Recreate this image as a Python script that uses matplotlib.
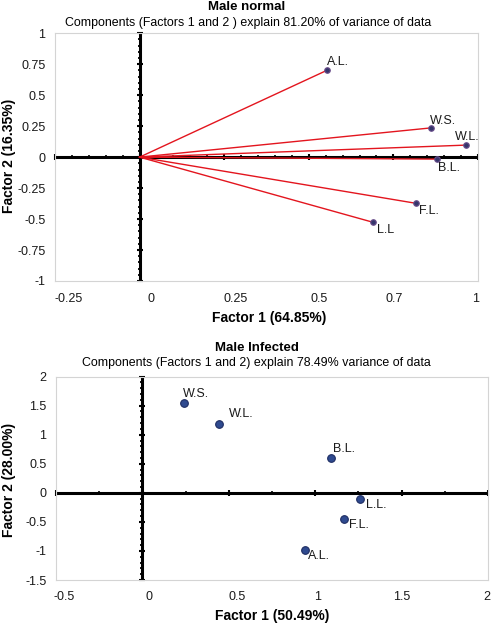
import numpy as np
import matplotlib
matplotlib.use("Agg")
import matplotlib.pyplot as plt

plt.rcParams["font.family"] = ["Liberation Sans", "DejaVu Sans"]

# ---- data: male normal (loadings) ----
normal_labels = ["A.L.", "W.S.", "W.L.", "B.L.", "F.L.", "L.L"]
normal_f1 = [0.553, 0.861, 0.964, 0.878, 0.817, 0.691]
normal_f2 = [0.700, 0.236, 0.097, -0.016, -0.373, -0.527]
# label offsets in pixels, (dx, dy, va)
normal_offsets = [(0, 2, "bottom"), (-1, 1, "bottom"), (-11, 2, "bottom"),
                  (1, -3, "top"), (3, -2, "top"), (4, -2, "top")]
normal_xtick_pos = [-0.211, 0.0325, 0.284, 0.530, 0.752, 0.994]
normal_xtick_lab = ["-0.25", "0", "0.25", "0.5", "0.7", "1"]
normal_yticks = [-1, -0.75, -0.5, -0.25, 0, 0.25, 0.5, 0.75, 1]

# ---- data: male infected (scores) ----
inf_labels = ["W.S.", "W.L.", "B.L.", "L.L.", "F.L.", "A.L."]
inf_f1 = [0.241, 0.445, 1.090, 1.261, 1.168, 0.941]
inf_f2 = [1.550, 1.178, 0.603, -0.103, -0.443, -0.978]
inf_offsets = [(-1, 3, "bottom"), (10, 4, "bottom"), (2, 3, "bottom"),
               (6, 0, "top"), (5, 0, "top"), (3, 0, "top")]
inf_xtick_pos = [-0.455, 0.039, 0.55, 1.013, 1.503, 1.993]
inf_xtick_lab = ["-0.5", "0", "0.5", "1", "1.5", "2"]
inf_yticks = [-1.5, -1, -0.5, 0, 0.5, 1, 1.5, 2]


def draw_cross(ax, xlim, ylim, xmaj, xmin, ymaj, ymin):
    """Excel-style thick axes crossing at the origin, with tick marks."""
    ax.plot(xlim, [0, 0], color="black", lw=2.2, zorder=2, clip_on=False,
            solid_capstyle="butt")
    ax.plot([0, 0], ylim, color="black", lw=2.2, zorder=2, clip_on=False,
            solid_capstyle="butt")
    xm = np.arange(xlim[0], xlim[1] + 1e-9, xmaj)
    xn = np.arange(xlim[0], xlim[1] + 1e-9, xmin)
    ym = np.arange(ylim[0], ylim[1] + 1e-9, ymaj)
    yn = np.arange(ylim[0], ylim[1] + 1e-9, ymin)
    ax.plot(xn, np.zeros_like(xn), ls="none", marker="|", ms=2.2, mew=1.2,
            color="black", zorder=2, clip_on=False)
    ax.plot(xm, np.zeros_like(xm), ls="none", marker="|", ms=5, mew=1.5,
            color="black", zorder=2, clip_on=False)
    ax.plot(np.zeros_like(yn), yn, ls="none", marker="_", ms=2.5, mew=1.3,
            color="black", zorder=2, clip_on=False)
    ax.plot(np.zeros_like(ym), ym, ls="none", marker="_", ms=5, mew=1.5,
            color="black", zorder=2, clip_on=False)


def style_axes(ax, xlim, ylim, xpos, xlab, yticks, pad_x):
    ax.set_xlim(xlim)
    ax.set_ylim(ylim)
    ax.set_xticks(xpos)
    ax.set_xticklabels(xlab)
    ax.set_yticks(yticks)
    ax.set_yticklabels([f"{v:g}" for v in yticks])
    ax.tick_params(axis="both", length=0, labelsize=9, colors="#1a1a1a")
    ax.tick_params(axis="y", pad=7)
    ax.tick_params(axis="x", pad=pad_x)
    for s in ax.spines.values():
        s.set_color("#d4d4d4")
        s.set_linewidth(0.8)


fig = plt.figure(figsize=(4.91, 6.24), dpi=100)

# ---------------- top: Male normal ----------------
ax1 = fig.add_axes([0.112, 0.5497, 0.8615, 0.397])
xlim1, ylim1 = (-0.25, 1.0), (-1.0, 1.0)
style_axes(ax1, xlim1, ylim1, normal_xtick_pos, normal_xtick_lab,
           normal_yticks, 9)
draw_cross(ax1, xlim1, ylim1, 0.25, 0.05, 0.25, 0.05)
for x, y in zip(normal_f1, normal_f2):
    ax1.plot([0, x], [0, y], color="#e3151e", lw=1.0, zorder=3)
ax1.plot(normal_f1, normal_f2, ls="none", marker="o", ms=4,
         mfc="#35356b", mec="#6b4e8c", mew=0.8, zorder=4)
for lab, x, y, (dx, dy, va) in zip(normal_labels, normal_f1, normal_f2,
                                   normal_offsets):
    ax1.annotate(lab, (x, y), xytext=(dx, dy), textcoords="offset pixels",
                 ha="left", va=va, fontsize=9, color="#1a1a1a", zorder=5)
fig.text(0.503, 0.989, "Male normal", ha="center", va="center",
         fontsize=9.5, fontweight="bold")
fig.text(0.505, 0.963,
         "Components (Factors 1 and 2 ) explain 81.20% of variance of data",
         ha="center", va="center", fontsize=8.9)
fig.text(0.548, 0.491, "Factor 1 (64.85%)", ha="center", va="center",
         fontsize=10, fontweight="bold")
fig.text(0.018, 0.75, "Factor 2 (16.35%)", ha="center", va="center",
         rotation=90, fontsize=10, fontweight="bold")

# ---------------- bottom: Male Infected ----------------
ax2 = fig.add_axes([0.114, 0.0705, 0.88, 0.326])
xlim2, ylim2 = (-0.5, 2.0), (-1.5, 2.0)
style_axes(ax2, xlim2, ylim2, inf_xtick_pos, inf_xtick_lab, inf_yticks, 8)
draw_cross(ax2, xlim2, ylim2, 0.5, 0.25, 0.5, 0.1)
ax2.plot(inf_f1, inf_f2, ls="none", marker="o", ms=5.5,
         mfc="#2f4a8f", mec="#1e2d62", mew=0.8, zorder=4)
for lab, x, y, (dx, dy, va) in zip(inf_labels, inf_f1, inf_f2, inf_offsets):
    ax2.annotate(lab, (x, y), xytext=(dx, dy), textcoords="offset pixels",
                 ha="left", va=va, fontsize=9, color="#1a1a1a", zorder=5)
fig.text(0.523, 0.442, "Male Infected", ha="center", va="center",
         fontsize=9.5, fontweight="bold")
fig.text(0.523, 0.418,
         "Components (Factors 1 and 2) explain 78.49% variance of data",
         ha="center", va="center", fontsize=8.9)
fig.text(0.554, 0.013, "Factor 1 (50.49%)", ha="center", va="center",
         fontsize=10, fontweight="bold")
fig.text(0.018, 0.231, "Factor 2 (28.00%)", ha="center", va="center",
         rotation=90, fontsize=10, fontweight="bold")

fig.savefig("out.png", dpi=100)
